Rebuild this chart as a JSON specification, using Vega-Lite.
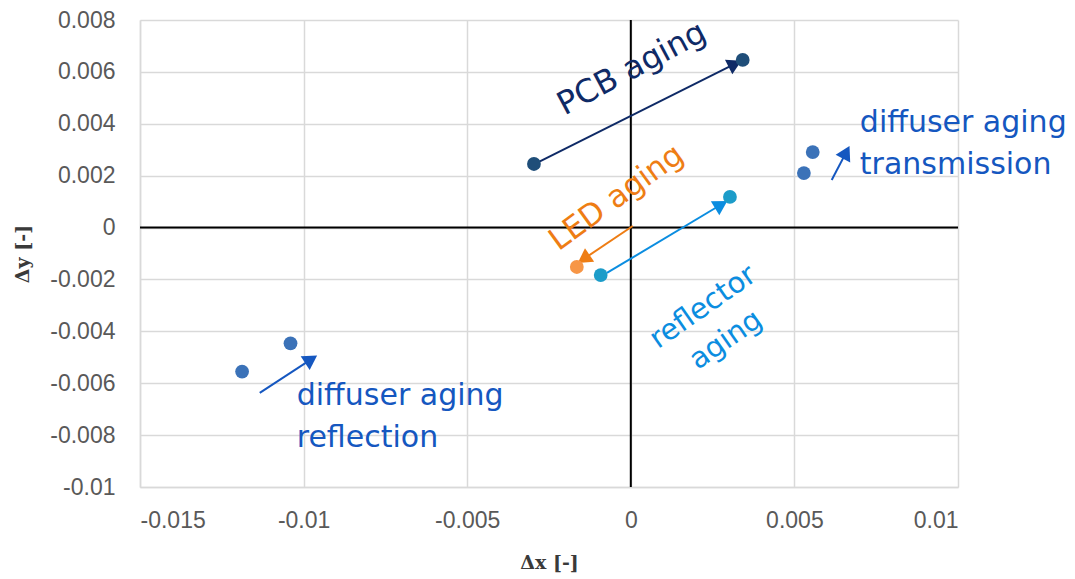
{
  "$schema": "https://vega.github.io/schema/vega-lite/v6.json",
  "width": 818,
  "height": 467,
  "autosize": {"type": "none"},
  "padding": {"left": 140, "top": 20, "right": 117, "bottom": 92},
  "background": "white",
  "config": {
    "view": {"stroke": null},
    "axis": {
      "grid": true,
      "gridColor": "#d9d9d9",
      "gridWidth": 1.5,
      "domainColor": "#d9d9d9",
      "domainWidth": 1.5,
      "ticks": false,
      "labelFont": "Liberation Sans",
      "labelFontSize": 23,
      "labelColor": "#595959",
      "titleFont": "DejaVu Serif",
      "titleFontWeight": "bold",
      "titleFontSize": 19,
      "titleColor": "#3a3a3a"
    }
  },
  "datasets": {
    "points": [
      {"k": "PCB", "x": -0.00296, "y": 0.00245},
      {"k": "PCB", "x": 0.00342, "y": 0.00646},
      {"k": "diffuser", "x": 0.00556, "y": 0.00291},
      {"k": "diffuser", "x": 0.00529, "y": 0.0021},
      {"k": "reflector", "x": 0.00303, "y": 0.00118},
      {"k": "reflector", "x": -0.00092, "y": -0.00183},
      {"k": "LED", "x": -0.00165, "y": -0.00152},
      {"k": "diffuser", "x": -0.0104, "y": -0.00446},
      {"k": "diffuser", "x": -0.01188, "y": -0.00555}
    ],
    "arrows": [
      {"k": "PCB aging", "x": -0.00287, "y": 0.00249, "x2": 0.00312, "y2": 0.00627},
      {"k": "LED aging", "x": 0.00006, "y": 0.00006, "x2": -0.00138, "y2": -0.00116},
      {"k": "reflector aging", "x": -0.00073, "y": -0.00175, "x2": 0.0027, "y2": 0.00084},
      {"k": "diffuser aging", "x": -0.01134, "y": -0.00637, "x2": -0.00983, "y2": -0.00513},
      {"k": "diffuser aging", "x": 0.00614, "y": 0.00183, "x2": 0.00655, "y2": 0.00282}
    ]
  },
  "layer": [
    {
      "data": {"values": [{"v": 0}]},
      "mark": {"type": "rule", "color": "#000000", "strokeWidth": 2},
      "encoding": {
        "x": {"field": "v", "type": "quantitative", "scale": {"domain": [-0.015, 0.01], "nice": false, "zero": false},
          "axis": {"values": [-0.015, -0.01, -0.005, 0, 0.005, 0.01], "labelExpr": "datum.value == 0 ? '0' : '' + datum.value", "labelPadding": 22, "title": "Δx [-]", "titleY": 75, "titleBaseline": "middle"}}
      }
    },
    {
      "data": {"values": [{"v": 0}]},
      "mark": {"type": "rule", "color": "#000000", "strokeWidth": 2},
      "encoding": {
        "y": {"field": "v", "type": "quantitative", "scale": {"domain": [-0.01, 0.008], "nice": false, "zero": false},
          "axis": {"values": [-0.01, -0.008, -0.006, -0.004, -0.002, 0, 0.002, 0.004, 0.006, 0.008], "labelExpr": "datum.value == 0 ? '0' : '' + datum.value", "labelPadding": 25, "title": "Δy [-]", "titleX": -118, "titleY": 233.5, "titleAngle": 270, "titleAlign": "center", "titleBaseline": "middle"}}
      }
    },
    {
      "data": {"name": "arrows"},
      "mark": {"type": "rule", "strokeWidth": 2},
      "encoding": {
        "x": {"field": "x", "type": "quantitative"},
        "y": {"field": "y", "type": "quantitative"},
        "x2": {"field": "x2"},
        "y2": {"field": "y2"},
        "color": {"field": "k", "type": "nominal", "legend": null,
          "scale": {"domain": ["PCB", "diffuser", "reflector", "LED", "PCB aging", "LED aging", "reflector aging", "diffuser aging"],
            "range": ["#1f4e79", "#3b72b8", "#1c9cc9", "#f79646", "#0f2a66", "#ee7d14", "#0b8de0", "#1557c0"]}}
      }
    },
    {
      "data": {"name": "arrows"},
      "transform": [
        {"calculate": "atan2((datum.x2 - datum.x) * 818 / 0.025, (datum.y2 - datum.y) * 467 / 0.018) * 180 / PI", "as": "ang"}
      ],
      "mark": {"type": "point", "shape": "triangle", "filled": true, "opacity": 1, "size": 270, "strokeWidth": 0},
      "encoding": {
        "x": {"field": "x2", "type": "quantitative"},
        "y": {"field": "y2", "type": "quantitative"},
        "angle": {"field": "ang", "type": "quantitative", "scale": null},
        "color": {"field": "k", "type": "nominal", "legend": null,
          "scale": {"domain": ["PCB", "diffuser", "reflector", "LED", "PCB aging", "LED aging", "reflector aging", "diffuser aging"],
            "range": ["#1f4e79", "#3b72b8", "#1c9cc9", "#f79646", "#0f2a66", "#ee7d14", "#0b8de0", "#1557c0"]}}
      }
    },
    {
      "data": {"name": "points"},
      "mark": {"type": "circle", "size": 190, "opacity": 1},
      "encoding": {
        "x": {"field": "x", "type": "quantitative"},
        "y": {"field": "y", "type": "quantitative"},
        "color": {"field": "k", "type": "nominal", "legend": null,
          "scale": {"domain": ["PCB", "diffuser", "reflector", "LED", "PCB aging", "LED aging", "reflector aging", "diffuser aging"],
            "range": ["#1f4e79", "#3b72b8", "#1c9cc9", "#f79646", "#0f2a66", "#ee7d14", "#0b8de0", "#1557c0"]}}
      }
    },
    {
      "data": {"values": [{"label": "PCB aging", "x": 0.00003, "y": 0.00613}]},
      "mark": {"type": "text", "font": "DejaVu Sans", "fontSize": 32, "angle": 332, "color": "#0f2a66", "align": "center", "baseline": "middle"},
      "encoding": {
        "x": {"field": "x", "type": "quantitative"},
        "y": {"field": "y", "type": "quantitative"},
        "text": {"field": "label"}
      }
    },
    {
      "data": {"values": [{"label": "LED aging", "x": -0.00043, "y": 0.00114}]},
      "mark": {"type": "text", "font": "DejaVu Sans", "fontSize": 31, "angle": 324, "color": "#ee7d14", "align": "center", "baseline": "middle"},
      "encoding": {
        "x": {"field": "x", "type": "quantitative"},
        "y": {"field": "y", "type": "quantitative"},
        "text": {"field": "label"}
      }
    },
    {
      "data": {"values": [{"label": "reflector\naging", "x": 0.0022, "y": -0.00306}]},
      "mark": {"type": "text", "font": "DejaVu Sans", "fontSize": 29, "angle": 325, "color": "#0b8de0", "align": "center", "baseline": "middle", "lineBreak": "\n", "lineHeight": 40},
      "encoding": {
        "x": {"field": "x", "type": "quantitative"},
        "y": {"field": "y", "type": "quantitative"},
        "text": {"field": "label"}
      }
    },
    {
      "data": {"values": [
        {"label": "diffuser aging\nreflection", "x": -0.01021, "y": -0.00684},
        {"label": "diffuser aging\ntransmission", "x": 0.007, "y": 0.00368}
      ]},
      "mark": {"type": "text", "font": "DejaVu Sans", "fontSize": 30, "color": "#1557c0", "align": "left", "baseline": "alphabetic", "lineBreak": "\n", "lineHeight": 42},
      "encoding": {
        "x": {"field": "x", "type": "quantitative"},
        "y": {"field": "y", "type": "quantitative"},
        "text": {"field": "label"}
      }
    }
  ]
}
